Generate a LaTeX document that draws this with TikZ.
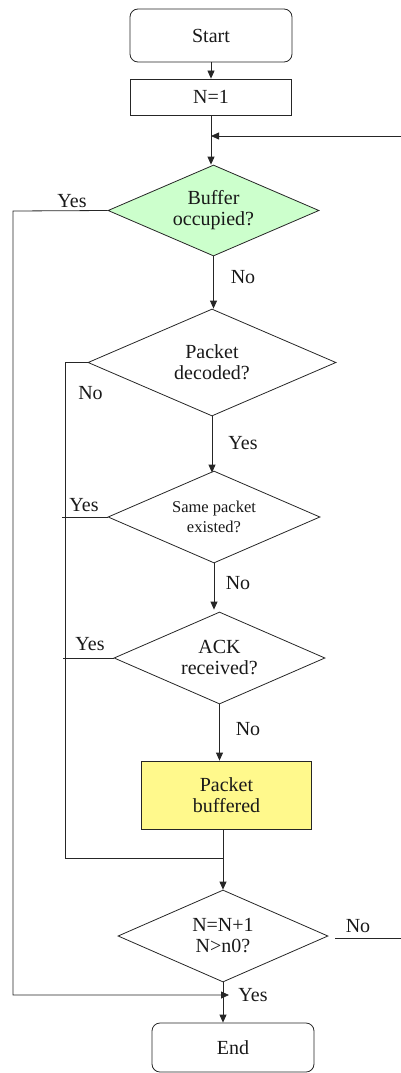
\documentclass[tikz,border=0pt]{standalone}
\usepackage{fontspec}
\setmainfont{Liberation Serif}
\newfontfamily\timesfont{Liberation Serif}
\usetikzlibrary{shapes.geometric,arrows.meta,calc}
\begin{document}
\begin{tikzpicture}[x=1pt,y=1pt,
  line/.style={draw=black!85, line width=0.8pt},
  arr/.style={line, -{Triangle[length=8pt,width=7pt]}},
  txt/.style={font=\timesfont\fontsize{20}{21}\selectfont, text=black!90},
  base/.style={line, txt, align=center, inner sep=0pt},
  term/.style={base, rectangle, rounded corners=8pt},
  proc/.style={base, rectangle},
  decide/.style={base, diamond, aspect=2.3},
  lab/.style={txt, inner sep=0pt}
]
\useasboundingbox (0,0) rectangle (401,-1073);

% nodes
\node[term, minimum width=162pt, minimum height=53pt] (start) at (211,-35.5) {Start};
\node[proc, minimum width=161pt, minimum height=36pt] (n1) at (211,-97) {N=1};
\node[decide, fill=green!20, minimum width=211pt, minimum height=91pt] (buf) at (213.5,-210.5) {Buffer\\occupied?};
\node[decide, minimum width=248pt, minimum height=107pt] (dec) at (212,-362.5) {Packet\\decoded?};
\node[decide, minimum width=212pt, minimum height=92pt, font=\timesfont\fontsize{16.5}{20.5}\selectfont] (same) at (214,-517) {Same packet\\existed?};
\node[decide, minimum width=211pt, minimum height=92pt] (ack) at (219.5,-658) {ACK\\received?};
\node[proc, fill=yellow!45, minimum width=170pt, minimum height=68pt] (pb) at (226.5,-795) {Packet\\buffered};
\node[decide, minimum width=210pt, minimum height=92pt] (nd) at (223,-936) {N=N+1\\N>n0?};
\node[term, minimum width=162pt, minimum height=49pt] (end) at (233,-1047.5) {End};

% free ends
\coordinate (loopin) at (401,-136);
\coordinate (noend) at (401,-938);
\coordinate (leftA) at (13,-211);
\coordinate (leftB) at (65,-362.5);
\coordinate (yesend) at (229,-995);
\coordinate (join) at (223,-858);

% main column
\draw[arr] (start.south) -- (n1.north);
\draw[arr] (n1.south) -- (n1.south |- buf.north);
\draw[arr] (loopin) -- (loopin -| n1.south);
\draw[arr] (buf.south) -- (buf.south |- dec.north);
\draw[arr] (dec.south) -- ([yshift=-2pt]dec.south |- same.north);
\draw[arr] (same.south) -- ([yshift=2pt]same.south |- ack.north);
\draw[arr] (ack.south) -- (ack.south |- pb.north);
\draw[line] (join |- pb.south) -- (join);
\draw[arr] (join) -- (nd.north);
\draw[arr] (nd.south) -- (nd.south |- end.north);

% left branches
\draw[arr] (buf.west) -- (leftA) -- (leftA |- yesend) -- (yesend);
\draw[line] (dec.west) -- (leftB) -- (leftB |- join) -- (join);
\draw[line] (same.west) -- ([xshift=-3pt]leftB |- same.west);
\draw[line] (ack.west) -- ([xshift=-2pt]leftB |- ack.west);

% right branch
\draw[line] ([xshift=7pt,yshift=-2pt]nd.east) -- (noend);

% labels
\node[lab] (l1) at (72,-201) {Yes};
\node[lab] (l2) at (243,-277) {No};
\node[lab] (l3) at (90.5,-393) {No};
\node[lab] (l4) at (243,-443) {Yes};
\node[lab] (l5) at (84,-505) {Yes};
\node[lab] (l6) at (238,-583) {No};
\node[lab] (l7) at (90,-644) {Yes};
\node[lab] (l8) at (248,-729) {No};
\node[lab] (l9) at (358,-926) {No};
\node[lab] (l10) at (253,-995) {Yes};
\end{tikzpicture}
\end{document}
